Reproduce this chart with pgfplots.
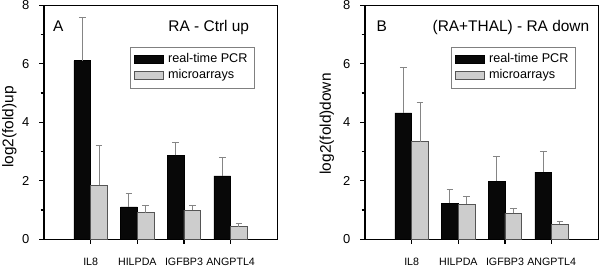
\documentclass[border=0pt]{standalone}
\usepackage{fontspec}
\setmainfont{Liberation Sans}
\usepackage{pgfplots}
\pgfplotsset{compat=1.18}
\definecolor{barblack}{HTML}{080808}
\definecolor{bargray}{HTML}{CDCDCD}
\definecolor{bargrayedge}{HTML}{555555}
\definecolor{errgray}{HTML}{858585}
\definecolor{legendgray}{HTML}{808080}

\pgfplotsset{
  panel/.style={
    scale only axis, width=233.3bp, height=234bp,
    xmin=-1, xmax=4, ymin=0, ymax=8,
    axis line style={line width=1.1bp, black},
    ybar=0pt, bar width=16.7bp,
    xtick={0,1,2,3}, xticklabels={IL8,HILPDA,IGFBP3,ANGPTL4},
    ytick={0,2,4,6,8}, minor ytick={1,3,5,7},
    tick align=outside, tick pos=left,
    major tick length=4.7bp, minor tick length=3.3bp,
    every tick/.style={black, line width=1.1bp},
    /pgf/number format/assume math mode=true,
    yticklabel style={font=\fontsize{13}{15}\selectfont, xshift=-6.5bp},
    xticklabel style={font=\fontsize{10.7}{12}\selectfont, yshift=-10.5bp},
    legend style={at={(rel axis cs:0.369,0.823)}, anchor=north west,
      draw=legendgray, line width=0.8bp, fill=white,
      inner xsep=4bp, inner ysep=5bp, row sep=1bp, column sep=1.6bp,
      nodes={font=\fontsize{12.7}{14}\selectfont, inner xsep=3bp, inner ysep=2bp,
        text height=8.5bp, text depth=2.5bp}},
    legend cell align=left,
    error bars/y dir=plus, error bars/y explicit,
    error bars/error bar style={color=errgray, line width=1bp},
    error bars/error mark options={rotate=90, mark size=3.4bp, color=errgray, line width=1bp},
  },
  pcr/.style={fill=barblack, draw=black, line width=0.6bp,
    legend image code/.code={\draw[fill=barblack, draw=black, line width=0.6bp] (0bp,-4.15bp) rectangle (28.4bp,4.15bp);}},
  micro/.style={fill=bargray, draw=bargrayedge, line width=0.6bp,
    legend image code/.code={\draw[fill=bargray, draw=bargrayedge, line width=0.6bp] (0bp,-4.15bp) rectangle (28.4bp,4.15bp);}},
}

\begin{document}
\begin{tikzpicture}
\useasboundingbox (0,0) rectangle (600bp,270bp);
% Panel A
\begin{axis}[panel, at={(44bp,30.7bp)}, anchor=south west,
  ylabel={log2(fold)up},
  every axis y label/.style={at={(rel axis cs:0,0.48)}, xshift=-34.5bp, rotate=90, anchor=center, font=\fontsize{15.5}{17}\selectfont}]
\addplot[pcr] coordinates {(0,6.11) +- (0,1.48) (1,1.11) +- (0,0.46) (2,2.87) +- (0,0.44) (3,2.17) +- (0,0.62)};
\addplot[micro] coordinates {(0,1.84) +- (0,1.36) (1,0.91) +- (0,0.26) (2,1.00) +- (0,0.17) (3,0.43) +- (0,0.10)};
\legend{real-time PCR, microarrays}
\node[anchor=base west, inner sep=0pt, font=\fontsize{15.5}{17}\selectfont] at (rel axis cs:0.0386,0.890) {A};
\node[anchor=base east, inner sep=0pt, font=\fontsize{15.5}{17}\selectfont] at (rel axis cs:0.880,0.890) {RA - Ctrl up};
\end{axis}
% Panel B
\begin{axis}[panel, at={(365bp,30.7bp)}, anchor=south west,
  ylabel={log2(fold)down},
  every axis y label/.style={at={(rel axis cs:0,0.493)}, xshift=-38bp, rotate=90, anchor=center, font=\fontsize{15.5}{17}\selectfont}]
\addplot[pcr] coordinates {(0,4.32) +- (0,1.57) (1,1.24) +- (0,0.47) (2,1.99) +- (0,0.83) (3,2.30) +- (0,0.69)};
\addplot[micro] coordinates {(0,3.34) +- (0,1.34) (1,1.20) +- (0,0.26) (2,0.89) +- (0,0.18) (3,0.52) +- (0,0.09)};
\legend{real-time PCR, microarrays}
\node[anchor=base west, inner sep=0pt, font=\fontsize{15.5}{17}\selectfont] at (rel axis cs:0.0493,0.890) {B};
\node[anchor=base east, inner sep=0pt, font=\fontsize{15.5}{17}\selectfont] at (rel axis cs:0.962,0.890) {(RA+THAL) - RA down};
\end{axis}
\end{tikzpicture}
\end{document}
